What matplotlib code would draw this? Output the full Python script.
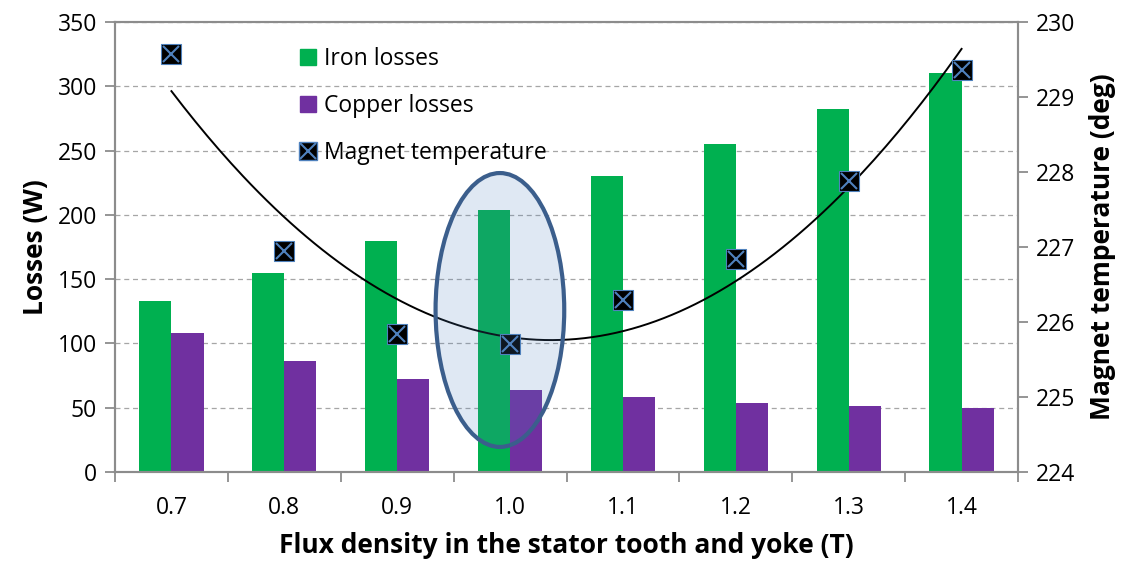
import matplotlib.pyplot as plt
import numpy as np
from matplotlib.patches import Ellipse, Patch
from matplotlib.legend_handler import HandlerTuple
from matplotlib.lines import Line2D

plt.rcParams['font.family'] = ['Open Sans', 'DejaVu Sans']

# data
flux = ['0.7', '0.8', '0.9', '1.0', '1.1', '1.2', '1.3', '1.4']
iron_losses = [133, 155, 180, 204, 230, 255, 282, 310]
copper_losses = [108, 86, 72, 64, 58, 54, 51, 50]
magnet_temp = [229.57, 226.95, 225.84, 225.71, 226.29, 226.84, 227.88, 229.36]

x = np.arange(len(flux))
w = 0.285
green = '#00B050'
purple = '#7030A0'
blue = '#4F81BD'
axis_grey = '#8c8c8c'
tick_fs = 16.5
label_fs = 19

fig = plt.figure(figsize=(11.33, 5.63), dpi=100)
ax = fig.add_axes([0.1015, 0.1616, 0.797, 0.7994])
ax2 = ax.twinx()

ax.bar(x - w / 2, iron_losses, w, color=green, zorder=2)
ax.bar(x + w / 2, copper_losses, w, color=purple, zorder=2)

ax.set_xlim(-0.5, len(flux) - 0.5)
ax.set_ylim(0, 350)
ax.set_yticks(np.arange(0, 351, 50))
ax.yaxis.grid(True, linestyle=(0, (4, 3)), color='#a6a6a6', linewidth=0.9, zorder=0)
ax.set_axisbelow(True)

# category ticks sit between the groups, labels in the middle
ax.set_xticks(np.arange(-0.5, len(flux) + 0.5, 1))
ax.set_xticklabels([])
ax.set_xticks(x, minor=True)
ax.set_xticklabels(flux, minor=True)
ax.tick_params(axis='x', which='minor', length=0, pad=17, labelsize=tick_fs)
ax.tick_params(axis='x', which='major', length=7, color=axis_grey, width=1.3)
ax.tick_params(axis='y', length=7, color=axis_grey, width=1.3, labelsize=tick_fs, pad=6)

for s in ax.spines.values():
    s.set_color(axis_grey)
    s.set_linewidth(1.5)

ax.set_ylabel('Losses (W)', fontsize=label_fs, fontweight='bold', labelpad=6)
ax.set_xlabel('Flux density in the stator tooth and yoke (T)', fontsize=label_fs,
              fontweight='bold', labelpad=9)

# magnet temperature on the secondary axis, with a 2nd order trend line
ax2.set_ylim(224, 230)
ax2.set_yticks(np.arange(224, 231, 1))
ax2.tick_params(axis='y', length=7, color=axis_grey, width=1.3, labelsize=tick_fs, pad=6)
for s in ax2.spines.values():
    s.set_color(axis_grey)
    s.set_linewidth(1.5)
ax2.set_ylabel('Magnet temperature (deg)', fontsize=label_fs, fontweight='bold', labelpad=10)

coef = np.polyfit(x + 1, magnet_temp, 2)
xs = np.linspace(0, 7, 200)
ax2.plot(xs, np.polyval(coef, xs + 1), color='black', linewidth=1.4, zorder=3)

ax2.plot(x, magnet_temp, linestyle='none', marker='s', markersize=14.5,
         markerfacecolor='black', markeredgecolor=blue, markeredgewidth=0.8, zorder=4)
ax2.plot(x, magnet_temp, linestyle='none', marker='x', markersize=12,
         markeredgecolor=blue, markeredgewidth=1.5, zorder=5)

# highlight around the 1.0 T point (drawn in loss units, on top of everything)
ax2.set_zorder(ax.get_zorder() + 1)
ax2.patch.set_visible(False)
to_t = lambda v: 224 + v * 6 / 350
ax2.add_patch(Ellipse((2.91, to_t(126)), 1.14, 213 * 6 / 350,
                      facecolor=blue, alpha=0.18, edgecolor='none', zorder=6))
ax2.add_patch(Ellipse((2.91, to_t(126)), 1.14, 213 * 6 / 350,
                      facecolor='none', edgecolor='#3B5E8C', linewidth=3, zorder=7))

handles = [Patch(color=green), Patch(color=purple),
           (Line2D([], [], linestyle='none', marker='s', markersize=13,
                   markerfacecolor='black', markeredgecolor=blue),
            Line2D([], [], linestyle='none', marker='x', markersize=11,
                   markeredgecolor=blue, markeredgewidth=1.5))]
ax2.legend(handles, ['Iron losses', 'Copper losses', 'Magnet temperature'],
           handler_map={tuple: HandlerTuple(ndivide=1, pad=0)},
           loc='upper left', bbox_to_anchor=(0.195, 0.965), frameon=False,
           fontsize=tick_fs, handlelength=0.7, handleheight=0.7,
           handletextpad=0.35, labelspacing=1.0, borderaxespad=0)

fig.savefig('out.png', dpi=100)
